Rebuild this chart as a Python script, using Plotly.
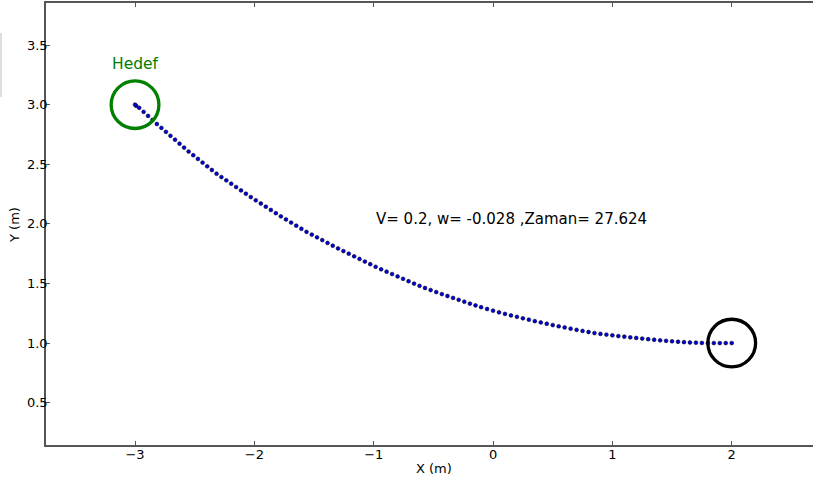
import plotly.graph_objects as go

# Trajectory dots (robot path from start (2,1) to target (-3,3))
traj_x = [2.00, 1.95, 1.90, 1.85, 1.80, 1.75, 1.70, 1.65, 1.60, 1.55, 1.50, 1.45, 1.40, 1.35, 1.30,
          1.25, 1.20, 1.15, 1.10, 1.05, 1.00, 0.95, 0.90, 0.85, 0.80, 0.75, 0.70, 0.65, 0.60, 0.55,
          0.50, 0.45, 0.40, 0.35, 0.30, 0.25, 0.20, 0.15, 0.10, 0.05, 0.00, -0.05, -0.10,
          -0.147, -0.194, -0.241, -0.288, -0.335, -0.382, -0.429, -0.476, -0.523, -0.570, -0.616,
          -0.662, -0.708, -0.754, -0.800, -0.846, -0.892, -0.938, -0.984,
          -1.029, -1.074, -1.119, -1.164, -1.209, -1.254, -1.299,
          -1.343, -1.387, -1.431, -1.475, -1.519, -1.563,
          -1.606, -1.649, -1.692, -1.735, -1.778,
          -1.820, -1.862, -1.904, -1.946, -1.988, -2.030,
          -2.071, -2.112, -2.153, -2.194, -2.235, -2.276, -2.317,
          -2.356, -2.395, -2.434, -2.473, -2.512, -2.551,
          -2.589, -2.627, -2.665, -2.703, -2.741, -2.779, -2.817,
          -2.854, -2.891, -2.928, -2.965, -2.990, -3.000]
traj_y = [1.000, 1.000, 1.000, 1.000, 1.000, 1.001, 1.003, 1.005, 1.008, 1.011, 1.015, 1.019, 1.023, 1.028, 1.033,
          1.038, 1.043, 1.048, 1.054, 1.059, 1.065, 1.071, 1.077, 1.084, 1.093, 1.102, 1.111, 1.121, 1.131, 1.141,
          1.151, 1.162, 1.173, 1.184, 1.196, 1.208, 1.220, 1.232, 1.245, 1.258, 1.272, 1.286, 1.301,
          1.316, 1.331, 1.347, 1.363, 1.379, 1.395, 1.411, 1.428, 1.445, 1.462, 1.480,
          1.499, 1.519, 1.539, 1.559, 1.579, 1.599, 1.619, 1.640,
          1.662, 1.684, 1.706, 1.728, 1.750, 1.772, 1.794,
          1.817, 1.840, 1.864, 1.887, 1.910, 1.933,
          1.959, 1.985, 2.011, 2.037, 2.063,
          2.090, 2.117, 2.144, 2.171, 2.198, 2.225,
          2.253, 2.281, 2.309, 2.337, 2.365, 2.393, 2.421,
          2.452, 2.483, 2.514, 2.545, 2.576, 2.607,
          2.640, 2.673, 2.706, 2.739, 2.772, 2.805, 2.838,
          2.872, 2.906, 2.940, 2.974, 2.990, 3.000]

target = (-3.0, 3.0)
start = (2.0, 1.0)
radius = 0.2
target_label = "Hedef"
info_text = "V= 0.2, w= -0.028 ,Zaman= 27.624"

x_ticks = [-3, -2, -1, 0, 1, 2]
y_ticks = [0.5, 1.0, 1.5, 2.0, 2.5, 3.0, 3.5]

W, H = 813, 481
L, R, T, B = 46, 0, 3, 36

fig = go.Figure()
fig.add_trace(go.Scatter(
    x=traj_x, y=traj_y, mode="markers",
    marker=dict(size=3.8, color="#0000dd", line=dict(width=0.6, color="#000022")),
    showlegend=False, hoverinfo="skip"))

fig.add_shape(type="circle", xref="x", yref="y",
              x0=target[0] - radius, x1=target[0] + radius,
              y0=target[1] - radius, y1=target[1] + radius,
              line=dict(color="#008000", width=3.3))
fig.add_shape(type="circle", xref="x", yref="y",
              x0=start[0] - radius, x1=start[0] + radius,
              y0=start[1] - radius, y1=start[1] + radius,
              line=dict(color="#000000", width=3.3))

font_family = "DejaVu Sans"
fig.add_annotation(x=target[0], y=target[1] + 0.345, text=target_label, showarrow=False,
                   xref="x", yref="y", xanchor="center", yanchor="middle",
                   font=dict(family=font_family, size=15.5, color="#008000"))
fig.add_annotation(x=-1.0, y=2.04, text=info_text, showarrow=False,
                   xref="x", yref="y", xanchor="left", yanchor="middle",
                   font=dict(family=font_family, size=15, color="#000000"))

pw = W - L - R
ph = H - T - B
# axis titles
fig.add_annotation(x=(434 - L) / pw, y=(H - B - 468) / ph, xref="paper", yref="paper",
                   text="X (m)", showarrow=False, xanchor="center", yanchor="middle",
                   font=dict(family=font_family, size=13, color="#000000"))
fig.add_annotation(x=(14 - L) / pw, y=(H - B - 225) / ph, xref="paper", yref="paper",
                   text="Y (m)", showarrow=False, textangle=-90, xanchor="center", yanchor="middle",
                   font=dict(family=font_family, size=13, color="#000000"))

# faint artifact at left edge
fig.add_shape(type="line", xref="paper", yref="paper",
              x0=(1 - L) / pw, x1=(1 - L) / pw,
              y0=(H - B - 33) / ph, y1=(H - B - 97) / ph,
              line=dict(color="#dddddd", width=2))

axis_color = "#555555"
fig.update_xaxes(range=[-3.746, 2.681], tickvals=x_ticks,
                 ticktext=[("\u2212" + str(-v)) if v < 0 else str(v) for v in x_ticks],
                 showgrid=False, zeroline=False, showline=True, linecolor=axis_color, linewidth=1.5,
                 mirror="ticks", ticks="inside", ticklen=4, tickcolor=axis_color, tickwidth=1,
                 ticklabelstandoff=-3,
                 tickfont=dict(family=font_family, size=13, color="#000000"))
fig.update_yaxes(range=[0.145, 3.853], tickvals=y_ticks, ticktext=[f"{v:.1f}" for v in y_ticks],
                 showgrid=False, zeroline=False, showline=True, linecolor=axis_color, linewidth=1.5,
                 mirror=False, ticks="inside", ticklen=4, tickcolor=axis_color, tickwidth=1,
                 ticklabelstandoff=-6,
                 tickfont=dict(family=font_family, size=13, color="#000000"))

fig.update_layout(width=W, height=H, margin=dict(l=L, r=R, t=T, b=B, pad=0),
                  plot_bgcolor="white", paper_bgcolor="white", showlegend=False)

fig.write_html("out.html")
